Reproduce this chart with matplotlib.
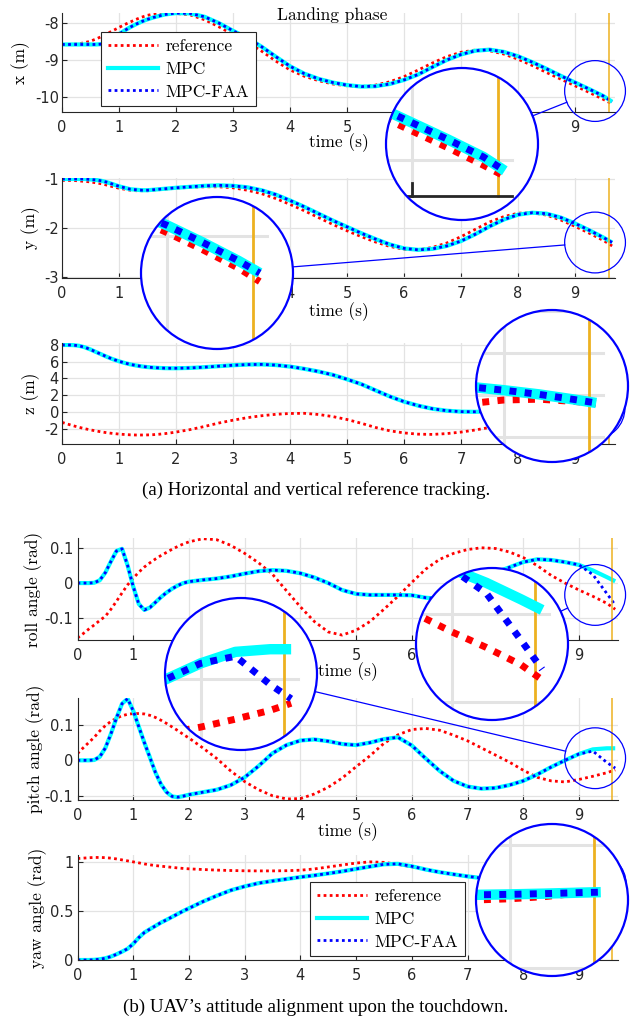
import math

import matplotlib
matplotlib.use("Agg")

import matplotlib.pyplot as plt
from matplotlib.lines import Line2D
from matplotlib.patches import Circle, Ellipse


# Zeitachse (s), am Anfang feiner wegen der schnellen Ausschläge
T = [0.0, 0.1, 0.2, 0.3, 0.4, 0.5, 0.6, 0.7, 0.8, 0.9, 1.0, 1.1, 1.2, 1.3, 1.4, 1.5, 1.6, 1.7, 1.8, 1.9, 2.0,
     2.25, 2.5, 2.75, 3.0, 3.25, 3.5, 3.75, 4.0, 4.25, 4.5, 4.75, 5.0, 5.25, 5.5, 5.75, 6.0, 6.25, 6.5, 6.75,
     7.0, 7.25, 7.5, 7.75, 8.0, 8.25, 8.5, 8.75, 9.0, 9.25, 9.5, 9.65]

# x (m)
x_ref = [-8.57, -8.57, -8.56, -8.55, -8.52, -8.48, -8.42, -8.35, -8.27, -8.19, -8.11, -8.03, -7.96, -7.89,
         -7.83, -7.78, -7.75, -7.73, -7.72, -7.72, -7.73,
         -7.77, -7.90, -8.09, -8.30, -8.50, -8.75, -9.02, -9.26, -9.43, -9.55, -9.64, -9.69, -9.71, -9.67,
         -9.58, -9.44, -9.26, -9.07, -8.90, -8.78, -8.72, -8.74, -8.83, -8.97, -9.14, -9.33, -9.51, -9.69,
         -9.87, -10.06, -10.18]
x_mpc = [-8.57, -8.57, -8.57, -8.57, -8.57, -8.57, -8.57, -8.56, -8.50, -8.40, -8.29, -8.19, -8.10, -8.02,
         -7.95, -7.89, -7.84, -7.80, -7.76, -7.74, -7.72,
         -7.73, -7.82, -7.99, -8.20, -8.39, -8.63, -8.90, -9.16, -9.36, -9.50, -9.60, -9.67, -9.71, -9.70,
         -9.64, -9.53, -9.38, -9.18, -8.99, -8.84, -8.74, -8.71, -8.77, -8.89, -9.05, -9.23, -9.42, -9.60,
         -9.78, -9.97, -10.12]
x_faa = x_mpc

# y (m)
y_ref = [-1.03, -1.03, -1.03, -1.04, -1.05, -1.06, -1.08, -1.10, -1.13, -1.16, -1.19, -1.21, -1.23, -1.24,
         -1.24, -1.24, -1.23, -1.22, -1.21, -1.20, -1.19,
         -1.17, -1.16, -1.16, -1.18, -1.23, -1.30, -1.40, -1.52, -1.65, -1.79, -1.93, -2.06, -2.18, -2.29,
         -2.38, -2.44, -2.45, -2.40, -2.31, -2.18, -2.03, -1.88, -1.77, -1.70, -1.69, -1.74, -1.84, -1.97,
         -2.11, -2.26, -2.37]
y_mpc = [-1.00, -1.00, -1.00, -1.00, -1.00, -1.01, -1.02, -1.04, -1.07, -1.11, -1.15, -1.18, -1.21, -1.22,
         -1.23, -1.23, -1.22, -1.21, -1.20, -1.19, -1.18,
         -1.16, -1.14, -1.13, -1.14, -1.17, -1.23, -1.32, -1.44, -1.57, -1.71, -1.85, -1.98, -2.11, -2.23,
         -2.34, -2.42, -2.45, -2.43, -2.37, -2.27, -2.13, -1.97, -1.83, -1.73, -1.69, -1.71, -1.79, -1.91,
         -2.05, -2.20, -2.30]
y_faa = y_mpc

# z (m)
z_ref = [-1.24, -1.45, -1.65, -1.83, -2.00, -2.14, -2.27, -2.39, -2.49, -2.57, -2.64, -2.69, -2.73, -2.75,
         -2.75, -2.74, -2.71, -2.66, -2.59, -2.50, -2.40,
         -2.10, -1.73, -1.32, -0.98, -0.68, -0.45, -0.28, -0.18, -0.16, -0.30, -0.55, -0.90, -1.35, -1.85,
         -2.25, -2.50, -2.65, -2.68, -2.58, -2.40, -2.15, -1.85, -1.50, -1.15, -0.85, -0.62, -0.42, -0.24,
         -0.20, -0.31, -0.40]
z_mpc = [8.00, 8.00, 7.98, 7.90, 7.72, 7.46, 7.15, 6.85, 6.55, 6.28, 6.05, 5.85, 5.68, 5.55, 5.44, 5.36,
         5.30, 5.26, 5.23, 5.22, 5.22,
         5.26, 5.35, 5.47, 5.58, 5.66, 5.68, 5.60, 5.42, 5.15, 4.83, 4.43, 3.90, 3.32, 2.58, 1.85, 1.23,
         0.75, 0.38, 0.15, 0.04, 0.02, 0.06, 0.15, 0.26, 0.35, 0.40, 0.40, 0.23, 0.03, -0.22, -0.38]
z_faa = z_mpc

# roll (rad)
roll_ref = [-0.157, -0.145, -0.132, -0.120, -0.107, -0.095, -0.075, -0.052, -0.028, -0.005, 0.014, 0.031,
            0.046, 0.058, 0.069, 0.079, 0.088, 0.097, 0.105, 0.112, 0.118,
            0.127, 0.124, 0.108, 0.085, 0.058, 0.025, -0.022, -0.068, -0.110, -0.140, -0.149, -0.135, -0.110,
            -0.075, -0.038, 0.002, 0.040, 0.068, 0.085, 0.096, 0.101, 0.099, 0.089, 0.073, 0.050, 0.022,
            0.000, -0.020, -0.038, -0.058, -0.075]
roll_mpc = [0.000, 0.000, 0.000, 0.001, 0.008, 0.030, 0.062, 0.092, 0.098, 0.050, -0.010, -0.060, -0.077,
            -0.070, -0.055, -0.040, -0.027, -0.016, -0.007, 0.000, 0.004,
            0.009, 0.013, 0.019, 0.027, 0.034, 0.037, 0.035, 0.028, 0.016, 0.000, -0.020, -0.031, -0.034,
            -0.034, -0.034, -0.035, -0.042, -0.045, -0.035, -0.015, 0.010, 0.030, 0.045, 0.060, 0.068, 0.066,
            0.060, 0.052, 0.036, 0.017, 0.005]
roll_faa = [0.000, 0.000, 0.000, 0.001, 0.008, 0.030, 0.062, 0.092, 0.098, 0.050, -0.010, -0.060, -0.077,
            -0.070, -0.055, -0.040, -0.027, -0.016, -0.007, 0.000, 0.004,
            0.009, 0.013, 0.019, 0.027, 0.034, 0.037, 0.035, 0.028, 0.016, 0.000, -0.020, -0.031, -0.034,
            -0.034, -0.034, -0.035, -0.042, -0.045, -0.035, -0.015, 0.010, 0.030, 0.045, 0.060, 0.068, 0.066,
            0.060, 0.052, 0.024, -0.030, -0.063]

# pitch (rad)
pitch_ref = [0.019, 0.035, 0.050, 0.065, 0.083, 0.098, 0.110, 0.119, 0.126, 0.130, 0.132, 0.132, 0.131,
             0.127, 0.121, 0.113, 0.104, 0.094, 0.084, 0.073, 0.063,
             0.035, 0.005, -0.030, -0.060, -0.083, -0.100, -0.109, -0.108, -0.095, -0.076, -0.050, -0.018,
             0.013, 0.048, 0.072, 0.087, 0.090, 0.085, 0.071, 0.055, 0.035, 0.015, -0.005, -0.028, -0.048,
             -0.058, -0.061, -0.054, -0.045, -0.035, -0.027]
pitch_mpc = [0.000, 0.000, 0.000, 0.001, 0.010, 0.035, 0.075, 0.120, 0.160, 0.174, 0.140, 0.095, 0.050,
             0.008, -0.035, -0.068, -0.090, -0.102, -0.104, -0.101, -0.097,
             -0.090, -0.083, -0.070, -0.048, -0.016, 0.020, 0.043, 0.056, 0.059, 0.054, 0.046, 0.043, 0.050,
             0.060, 0.065, 0.042, 0.005, -0.030, -0.058, -0.074, -0.080, -0.078, -0.070, -0.058, -0.040,
             -0.019, 0.000, 0.018, 0.031, 0.034, 0.034]
pitch_faa = [0.000, 0.000, 0.000, 0.001, 0.010, 0.035, 0.075, 0.120, 0.160, 0.174, 0.140, 0.095, 0.050,
             0.008, -0.035, -0.068, -0.090, -0.102, -0.104, -0.101, -0.097,
             -0.090, -0.083, -0.070, -0.048, -0.016, 0.020, 0.043, 0.056, 0.059, 0.054, 0.046, 0.043, 0.050,
             0.060, 0.065, 0.042, 0.005, -0.030, -0.058, -0.074, -0.080, -0.078, -0.070, -0.058, -0.040,
             -0.019, 0.000, 0.018, 0.026, -0.006, -0.022]

# yaw (rad)
yaw_ref = [1.034, 1.038, 1.042, 1.045, 1.045, 1.043, 1.038, 1.030, 1.020, 1.010, 1.000, 0.990, 0.979, 0.970,
           0.962, 0.956, 0.950, 0.944, 0.938, 0.933, 0.929,
           0.922, 0.916, 0.912, 0.909, 0.908, 0.908, 0.910, 0.915, 0.928, 0.948, 0.968, 0.988, 1.000, 0.995,
           0.975, 0.948, 0.920, 0.895, 0.873, 0.855, 0.838, 0.818, 0.800, 0.785, 0.777, 0.774, 0.776, 0.781,
           0.790, 0.805, 0.815]
yaw_mpc = [0.000, 0.000, 0.000, 0.002, 0.008, 0.018, 0.035, 0.058, 0.085, 0.115, 0.165, 0.228, 0.280, 0.315,
           0.348, 0.382, 0.410, 0.440, 0.470, 0.500, 0.527,
           0.595, 0.655, 0.710, 0.750, 0.783, 0.805, 0.825, 0.845, 0.862, 0.882, 0.903, 0.928, 0.952, 0.975,
           0.980, 0.955, 0.922, 0.895, 0.873, 0.852, 0.835, 0.818, 0.806, 0.800, 0.797, 0.796, 0.797, 0.799,
           0.802, 0.806, 0.808]
yaw_faa = yaw_mpc

LABELS = ["reference", "MPC", "MPC-FAA"]
T_LAND = 9.6  # Aufsetzzeitpunkt (orange Linie)
XTICKS = [0, 1, 2, 3, 4, 5, 6, 7, 8, 9]


# Layout in Pixeln des Originals (633 x 1019)
W, H = 633, 1019
RED, CYAN, BLUE, ORANGE = "#FF0000", "#00FFFF", "#0000FF", "#EDB120"
GRID, AXC = "#E3E3E3", "#262626"
DOT = (0, (1, 1.2))
LW_REF, LW_MPC, LW_FAA = 2.0, 3.0, 2.0
MAG, R_BIG = 2.5, 76
R_SMALL = R_BIG / MAG
CM = "cmr10"
LBL = 12.5

plt.rcParams["font.family"] = "DejaVu Sans"
plt.rcParams["axes.unicode_minus"] = False

fig = plt.figure(figsize=(W / 100, H / 100), dpi=100)


def fbox(l, t, r, b):
    return [l / W, 1 - b / H, (r - l) / W, (b - t) / H]


def fpt(x, y):
    return (x / W, 1 - y / H)


def draw_series(ax, ref, mpc, faa, scale=1.0):
    arts = []
    arts += ax.plot(T, ref, color=RED, lw=LW_REF * scale, ls=DOT)
    arts += ax.plot(T, mpc, color=CYAN, lw=LW_MPC * scale, solid_capstyle="butt")
    arts += ax.plot(T, faa, color=BLUE, lw=LW_FAA * scale, ls=DOT)
    return arts


# box(l, t, r, b), ylim, yticks, ylabel, ylabel-x, xlabel-y, ypad, daten, zoom-mitte, lupen-mitte
PANELS = [
    ((62, 12.7, 615, 111.7), (-10.39, -7.71), [-10, -9, -8], "x (m)", 21, 143, 2.2,
     (x_ref, x_mpc, x_faa), (9.35, -9.83), (462, 144)),
    ((62, 178, 615, 277.7), (-3.02, -0.98), [-3, -2, -1], "y (m)", 31, 312, 2.2,
     (y_ref, y_mpc, y_faa), (9.35, -2.30), (217, 273)),
    ((62, 343.3, 615, 443.8), (-3.8, 8.2), [-2, 0, 2, 4, 6, 8], "z (m)", 31, None, 2.2,
     (z_ref, z_mpc, z_faa), (9.34, 0.43), (552, 386)),
    ((77.5, 538, 618, 640), (-0.163, 0.129), [-0.1, 0, 0.1], "roll angle (rad)", 34, 672, 3,
     (roll_ref, roll_mpc, roll_faa), (9.29, -0.034), (492, 644)),
    ((77.5, 698, 618, 800), (-0.112, 0.176), [-0.1, 0, 0.1], "pitch angle (rad)", 36, 832, 3,
     (pitch_ref, pitch_mpc, pitch_faa), (9.29, 0.006), (241, 674)),
    ((77.5, 855, 618, 960), (0, 1.07), [0, 0.5, 1], "yaw angle (rad)", 38, None, 3,
     (yaw_ref, yaw_mpc, yaw_faa), (9.30, 0.776), (552, 900)),
]
XLIM = (0, 9.7)

axes = []
for box, ylim, yticks, ylabel, ylx, xly, ypad, series, _, _ in PANELS:
    ax = fig.add_axes(fbox(*box))
    ax.set_xlim(*XLIM)
    ax.set_ylim(*ylim)
    ax.set_xticks(XTICKS)
    ax.set_yticks(yticks)
    ax.set_yticklabels([f"{v:g}" for v in yticks])
    ax.grid(True, color=GRID, lw=0.9)
    ax.set_axisbelow(True)
    for side in ("top", "right"):
        ax.spines[side].set_visible(False)
    for side in ("left", "bottom"):
        ax.spines[side].set_color(AXC)
        ax.spines[side].set_linewidth(0.8)
    ax.tick_params(direction="in", length=3.6, width=0.8, color=AXC, labelcolor=AXC, labelsize=10.5)
    ax.tick_params(axis="x", pad=6)
    ax.tick_params(axis="y", pad=ypad)
    draw_series(ax, *series)
    ax.axvline(T_LAND, color=ORANGE, lw=1.1)
    l, t, r, b = box
    fig.text(*fpt(ylx, (t + b) / 2), ylabel, rotation=90, ha="center", va="center",
             family=CM, size=LBL)
    if xly is not None:
        fig.text(*fpt((l + r) / 2, xly), "time (s)", ha="center", va="center", family=CM, size=LBL)
    axes.append(ax)


def add_zoom(box, ylim, yticks, series, center, big):
    """Kreis-Lupe: Ausschnitt um center, MAG-fach vergroessert, bei big (px) gezeichnet."""
    l, t, r, b = box
    sx = (r - l) / (XLIM[1] - XLIM[0])
    sy = (b - t) / (ylim[1] - ylim[0])
    tc, vc = center
    px = l + (tc - XLIM[0]) * sx
    py = b - (vc - ylim[0]) * sy
    bx, by = big
    dx, dy = R_BIG / (MAG * sx), R_BIG / (MAG * sy)

    axi = fig.add_axes(fbox(bx - R_BIG, by - R_BIG, bx + R_BIG, by + R_BIG), zorder=10)
    axi.set_xlim(tc - dx, tc + dx)
    axi.set_ylim(vc - dy, vc + dy)
    axi.axis("off")
    axi.patch.set_visible(False)
    disk = Circle((0.5, 0.5), 0.5, transform=axi.transAxes, fc="white", ec="none", zorder=0)
    axi.add_patch(disk)

    arts = []
    for xt in XTICKS:
        arts += axi.plot([xt, xt], ylim, color=GRID, lw=2.2)
    for yt in yticks:
        arts += axi.plot(XLIM, [yt, yt], color=GRID, lw=2.2)
    arts += axi.plot([T_LAND, T_LAND], ylim, color=ORANGE, lw=2.0)
    arts += axi.plot(XLIM, [ylim[0], ylim[0]], color=AXC, lw=2.0)
    for xt in XTICKS:
        arts += axi.plot([xt, xt], [ylim[0], ylim[0] + 5 / sy], color=AXC, lw=2.0)
    arts += draw_series(axi, *series, scale=MAG)
    for a in arts:
        a.set_clip_path(disk)
    axi.add_patch(Circle((0.5, 0.5), 0.5, transform=axi.transAxes, fill=False, ec=BLUE,
                         lw=1.6, clip_on=False, zorder=20))

    fig.add_artist(Ellipse(fpt(px, py), 2 * R_SMALL / W, 2 * R_SMALL / H, transform=fig.transFigure,
                           fill=False, ec=BLUE, lw=0.9, zorder=5))
    d = math.hypot(px - bx, py - by)
    if d > R_BIG + R_SMALL:
        ux, uy = (px - bx) / d, (py - by) / d
        p0 = fpt(bx + ux * R_BIG, by + uy * R_BIG)
        p1 = fpt(px - ux * R_SMALL, py - uy * R_SMALL)
        fig.add_artist(Line2D([p0[0], p1[0]], [p0[1], p1[1]], transform=fig.transFigure,
                              color=BLUE, lw=0.9, zorder=5))


for box, ylim, yticks, _, _, _, _, series, center, big in PANELS:
    add_zoom(box, ylim, yticks, series, center, big)

# Legenden
handles = [
    Line2D([], [], color=RED, lw=LW_REF, ls=DOT),
    Line2D([], [], color=CYAN, lw=LW_MPC),
    Line2D([], [], color=BLUE, lw=LW_FAA, ls=DOT),
]
for ax, (lx, ly) in ((axes[0], (101, 32)), (axes[5], (310, 882))):
    leg = ax.legend(handles, LABELS, loc="upper left", bbox_to_anchor=fpt(lx, ly),
                    bbox_transform=fig.transFigure, borderaxespad=0, fancybox=False, framealpha=1,
                    edgecolor=AXC, prop={"family": CM, "size": 12.5}, handlelength=2.9,
                    handletextpad=0.4, labelspacing=0.42, borderpad=0.4)
    leg.get_frame().set_linewidth(0.8)

fig.text(*fpt(332, 15), "Landing phase", ha="center", va="center", family=CM, size=LBL)
fig.text(*fpt(316, 490), "(a) Horizontal and vertical reference tracking.", ha="center", va="center",
         family="Liberation Serif", size=13.7)
fig.text(*fpt(316, 1007), "(b) UAV\u2019s attitude alignment upon the touchdown.", ha="center",
         va="center", family="Liberation Serif", size=13.7)

fig.savefig("out.png", dpi=100)
